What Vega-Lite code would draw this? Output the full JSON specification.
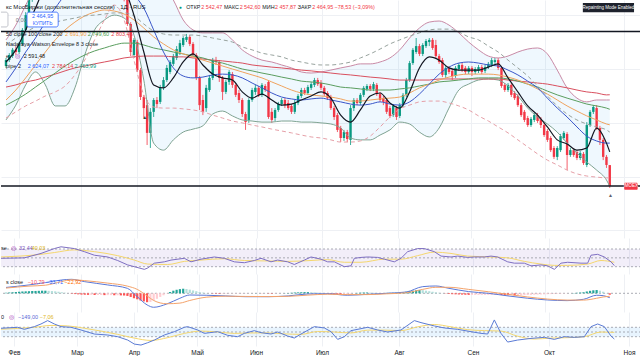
{
"$schema": "https://vega.github.io/schema/vega-lite/v6.json",
"padding": 0,
"spacing": 0,
"background": "#ffffff",
"config": {"view": {"stroke": null}, "font": "Liberation Sans", "concat": {"spacing": 0}, "axis": {"domain": false, "ticks": false, "gridColor": "#eef0f4", "gridWidth": 1}},
"datasets": {
"c": [
{"i":0,"o":2910,"h":2940,"l":2903,"c":2932,"d":5},{"i":1,"o":2932,"h":2958,"l":2925,"c":2951,"d":6},{"i":2,"o":2947,"h":2977,"l":2940,"c":2970,"d":8},{"i":3,"o":2970,"h":2984,"l":2951,"c":2962,"d":10},{"i":4,"o":2962,"h":2999,"l":2955,"c":2992,"d":12},{"i":5,"o":2992,"h":3051,"l":2984,"c":3044,"d":14},{"i":6,"o":3044,"h":3110,"l":3036,"c":3099,"d":15},{"i":7,"o":3099,"h":3166,"l":3092,"c":3155,"d":16},{"i":8,"o":3155,"h":3200,"l":3148,"c":3190,"d":17},{"i":9,"o":3190,"h":3245,"l":3180,"c":3230,"d":18},
{"i":10,"o":3230,"h":3280,"l":3220,"c":3260,"d":19},{"i":11,"o":3260,"h":3320,"l":3250,"c":3300,"d":20},{"i":12,"o":3300,"h":3315,"l":3265,"c":3280,"d":20},{"i":13,"o":3280,"h":3325,"l":3270,"c":3310,"d":19},{"i":14,"o":3310,"h":3320,"l":3255,"c":3270,"d":17},{"i":15,"o":3270,"h":3285,"l":3225,"c":3240,"d":15},{"i":16,"o":3240,"h":3270,"l":3230,"c":3255,"d":12},{"i":17,"o":3255,"h":3262,"l":3205,"c":3220,"d":8},{"i":18,"o":3220,"h":3230,"l":3180,"c":3195,"d":4},{"i":19,"o":3195,"h":3222,"l":3182,"c":3210,"d":0},
{"i":20,"o":3210,"h":3218,"l":3170,"c":3180,"d":-3},{"i":21,"o":3180,"h":3210,"l":3172,"c":3200,"d":-6},{"i":22,"o":3200,"h":3240,"l":3192,"c":3230,"d":-8},{"i":23,"o":3230,"h":3262,"l":3220,"c":3250,"d":-10},{"i":24,"o":3250,"h":3260,"l":3222,"c":3235,"d":-11},{"i":25,"o":3235,"h":3275,"l":3228,"c":3265,"d":-12},{"i":26,"o":3265,"h":3298,"l":3255,"c":3285,"d":-12},{"i":27,"o":3285,"h":3295,"l":3260,"c":3270,"d":-13},{"i":28,"o":3270,"h":3280,"l":3236,"c":3245,"d":-13},{"i":29,"o":3245,"h":3270,"l":3238,"c":3260,"d":-13},
{"i":30,"o":3260,"h":3268,"l":3230,"c":3240,"d":-14},{"i":31,"o":3240,"h":3250,"l":3205,"c":3215,"d":-14},{"i":32,"o":3215,"h":3240,"l":3205,"c":3230,"d":-14},{"i":33,"o":3230,"h":3236,"l":3198,"c":3210,"d":-15},{"i":34,"o":3210,"h":3218,"l":3185,"c":3192,"d":-15},{"i":35,"o":3192,"h":3200,"l":3166,"c":3174,"d":-16},{"i":36,"o":3174,"h":3190,"l":3150,"c":3160,"d":-17},{"i":37,"o":3160,"h":3170,"l":3059,"c":3066,"d":-20},{"i":38,"o":3066,"h":3073,"l":2947,"c":2962,"d":-28},{"i":39,"o":2951,"h":3014,"l":2940,"c":3007,"d":-38},
{"i":40,"o":2999,"h":3007,"l":2888,"c":2895,"d":-46},{"i":41,"o":2895,"h":2903,"l":2784,"c":2795,"d":-55},{"i":42,"o":2795,"h":2803,"l":2717,"c":2754,"d":-62},{"i":43,"o":2765,"h":2784,"l":2617,"c":2662,"d":-68},{"i":44,"o":2662,"h":2754,"l":2606,"c":2740,"d":-66},{"i":45,"o":2740,"h":2791,"l":2721,"c":2784,"d":-55},{"i":46,"o":2784,"h":2795,"l":2754,"c":2769,"d":-42},{"i":47,"o":2777,"h":2840,"l":2769,"c":2829,"d":-28},{"i":48,"o":2829,"h":2869,"l":2821,"c":2858,"d":-15},{"i":49,"o":2858,"h":2914,"l":2851,"c":2903,"d":-2},
{"i":50,"o":2888,"h":2932,"l":2880,"c":2925,"d":10},{"i":51,"o":2918,"h":2955,"l":2910,"c":2947,"d":20},{"i":52,"o":2940,"h":2984,"l":2932,"c":2973,"d":27},{"i":53,"o":2962,"h":3007,"l":2951,"c":2995,"d":32},{"i":54,"o":2988,"h":3021,"l":2981,"c":3014,"d":35},{"i":55,"o":3007,"h":3029,"l":2999,"c":3018,"d":33},{"i":56,"o":3018,"h":3025,"l":2984,"c":2992,"d":28},{"i":57,"o":2992,"h":2999,"l":2944,"c":2951,"d":22},{"i":58,"o":2951,"h":2958,"l":2858,"c":2866,"d":16},{"i":59,"o":2866,"h":2873,"l":2747,"c":2765,"d":10},
{"i":60,"o":2784,"h":2803,"l":2728,"c":2740,"d":5},{"i":61,"o":2754,"h":2840,"l":2740,"c":2829,"d":2},{"i":62,"o":2821,"h":2877,"l":2814,"c":2866,"d":0},{"i":63,"o":2866,"h":2940,"l":2858,"c":2932,"d":-2},{"i":64,"o":2932,"h":2944,"l":2914,"c":2925,"d":-3},{"i":65,"o":2925,"h":2932,"l":2851,"c":2866,"d":-4},{"i":66,"o":2866,"h":2873,"l":2784,"c":2814,"d":-4},{"i":67,"o":2814,"h":2858,"l":2806,"c":2851,"d":-3},{"i":68,"o":2851,"h":2895,"l":2840,"c":2888,"d":-2},{"i":69,"o":2880,"h":2888,"l":2829,"c":2840,"d":-2},
{"i":70,"o":2840,"h":2847,"l":2795,"c":2803,"d":-2},{"i":71,"o":2810,"h":2821,"l":2773,"c":2784,"d":-2},{"i":72,"o":2784,"h":2791,"l":2721,"c":2732,"d":-2},{"i":73,"o":2732,"h":2740,"l":2673,"c":2702,"d":-2},{"i":74,"o":2710,"h":2791,"l":2699,"c":2784,"d":-1},{"i":75,"o":2784,"h":2829,"l":2777,"c":2821,"d":0},{"i":76,"o":2814,"h":2840,"l":2803,"c":2829,"d":1},{"i":77,"o":2829,"h":2836,"l":2795,"c":2803,"d":0},{"i":78,"o":2803,"h":2847,"l":2795,"c":2840,"d":-1},{"i":79,"o":2836,"h":2843,"l":2814,"c":2821,"d":-1},
{"i":80,"o":2851,"h":2858,"l":2714,"c":2721,"d":-2},{"i":81,"o":2740,"h":2754,"l":2699,"c":2710,"d":-3},{"i":82,"o":2717,"h":2754,"l":2706,"c":2747,"d":-2},{"i":83,"o":2747,"h":2777,"l":2740,"c":2769,"d":-1},{"i":84,"o":2769,"h":2791,"l":2762,"c":2784,"d":0},{"i":85,"o":2784,"h":2791,"l":2754,"c":2765,"d":1},{"i":86,"o":2773,"h":2784,"l":2747,"c":2754,"d":2},{"i":87,"o":2762,"h":2769,"l":2732,"c":2740,"d":4},{"i":88,"o":2740,"h":2784,"l":2732,"c":2773,"d":6},{"i":89,"o":2773,"h":2806,"l":2765,"c":2799,"d":7},
{"i":90,"o":2799,"h":2829,"l":2791,"c":2821,"d":8},{"i":91,"o":2821,"h":2829,"l":2803,"c":2810,"d":9},{"i":92,"o":2810,"h":2840,"l":2803,"c":2832,"d":9},{"i":93,"o":2829,"h":2851,"l":2821,"c":2843,"d":8},{"i":94,"o":2840,"h":2866,"l":2832,"c":2858,"d":7},{"i":95,"o":2858,"h":2866,"l":2836,"c":2843,"d":5},{"i":96,"o":2847,"h":2858,"l":2821,"c":2829,"d":3},{"i":97,"o":2829,"h":2836,"l":2799,"c":2806,"d":1},{"i":98,"o":2810,"h":2817,"l":2784,"c":2791,"d":-2},{"i":99,"o":2795,"h":2803,"l":2747,"c":2754,"d":-5},
{"i":100,"o":2754,"h":2762,"l":2710,"c":2721,"d":-8},{"i":101,"o":2728,"h":2736,"l":2665,"c":2673,"d":-11},{"i":102,"o":2680,"h":2688,"l":2628,"c":2643,"d":-12},{"i":103,"o":2643,"h":2673,"l":2632,"c":2665,"d":-11},{"i":104,"o":2665,"h":2673,"l":2628,"c":2639,"d":-8},{"i":105,"o":2636,"h":2765,"l":2617,"c":2754,"d":-4},{"i":106,"o":2754,"h":2791,"l":2743,"c":2784,"d":0},{"i":107,"o":2784,"h":2791,"l":2765,"c":2773,"d":3},{"i":108,"o":2773,"h":2810,"l":2765,"c":2803,"d":5},{"i":109,"o":2803,"h":2836,"l":2795,"c":2829,"d":6},
{"i":110,"o":2825,"h":2843,"l":2817,"c":2836,"d":6},{"i":111,"o":2836,"h":2843,"l":2817,"c":2825,"d":5},{"i":112,"o":2825,"h":2851,"l":2817,"c":2843,"d":4},{"i":113,"o":2840,"h":2847,"l":2799,"c":2806,"d":3},{"i":114,"o":2806,"h":2814,"l":2777,"c":2784,"d":2},{"i":115,"o":2791,"h":2799,"l":2765,"c":2777,"d":2},{"i":116,"o":2784,"h":2791,"l":2732,"c":2740,"d":3},{"i":117,"o":2754,"h":2762,"l":2717,"c":2725,"d":4},{"i":118,"o":2728,"h":2769,"l":2721,"c":2762,"d":4},{"i":119,"o":2754,"h":2762,"l":2710,"c":2721,"d":5},
{"i":120,"o":2725,"h":2773,"l":2717,"c":2765,"d":6},{"i":121,"o":2765,"h":2810,"l":2758,"c":2803,"d":8},{"i":122,"o":2803,"h":2866,"l":2795,"c":2858,"d":12},{"i":123,"o":2858,"h":2929,"l":2851,"c":2921,"d":16},{"i":124,"o":2921,"h":2977,"l":2914,"c":2970,"d":20},{"i":125,"o":2962,"h":3014,"l":2955,"c":2984,"d":23},{"i":126,"o":2984,"h":2992,"l":2947,"c":2955,"d":25},{"i":127,"o":2955,"h":2995,"l":2947,"c":2988,"d":24},{"i":128,"o":2984,"h":3010,"l":2977,"c":3003,"d":20},{"i":129,"o":2999,"h":3014,"l":2984,"c":3007,"d":16},
{"i":130,"o":3007,"h":3014,"l":2970,"c":2977,"d":12},{"i":131,"o":2988,"h":3007,"l":2940,"c":2947,"d":8},{"i":132,"o":2947,"h":2955,"l":2918,"c":2925,"d":4},{"i":133,"o":2932,"h":2940,"l":2869,"c":2877,"d":1},{"i":134,"o":2877,"h":2910,"l":2866,"c":2903,"d":-2},{"i":135,"o":2903,"h":2910,"l":2880,"c":2888,"d":-5},{"i":136,"o":2892,"h":2899,"l":2858,"c":2873,"d":-7},{"i":137,"o":2873,"h":2910,"l":2866,"c":2903,"d":-8},{"i":138,"o":2899,"h":2921,"l":2892,"c":2914,"d":-9},{"i":139,"o":2914,"h":2921,"l":2888,"c":2895,"d":-10},
{"i":140,"o":2903,"h":2910,"l":2880,"c":2888,"d":-11},{"i":141,"o":2888,"h":2910,"l":2880,"c":2903,"d":-12},{"i":142,"o":2903,"h":2910,"l":2873,"c":2888,"d":-12},{"i":143,"o":2888,"h":2906,"l":2880,"c":2899,"d":-12},{"i":144,"o":2892,"h":2914,"l":2884,"c":2906,"d":-12},{"i":145,"o":2906,"h":2914,"l":2880,"c":2888,"d":-12},{"i":146,"o":2892,"h":2914,"l":2884,"c":2906,"d":-12},{"i":147,"o":2906,"h":2925,"l":2899,"c":2918,"d":-12},{"i":148,"o":2914,"h":2940,"l":2906,"c":2932,"d":-12},{"i":149,"o":2925,"h":2940,"l":2918,"c":2932,"d":-12},
{"i":150,"o":2932,"h":2940,"l":2895,"c":2903,"d":-12},{"i":151,"o":2903,"h":2910,"l":2829,"c":2836,"d":-13},{"i":152,"o":2840,"h":2847,"l":2814,"c":2821,"d":-14},{"i":153,"o":2821,"h":2847,"l":2814,"c":2840,"d":-15},{"i":154,"o":2840,"h":2847,"l":2795,"c":2803,"d":-15},{"i":155,"o":2810,"h":2817,"l":2784,"c":2791,"d":-16},{"i":156,"o":2799,"h":2806,"l":2758,"c":2765,"d":-16},{"i":157,"o":2765,"h":2773,"l":2721,"c":2728,"d":-15},{"i":158,"o":2740,"h":2747,"l":2702,"c":2710,"d":-14},{"i":159,"o":2717,"h":2725,"l":2684,"c":2691,"d":-13},
{"i":160,"o":2691,"h":2721,"l":2684,"c":2714,"d":-12},{"i":161,"o":2710,"h":2736,"l":2702,"c":2728,"d":-11},{"i":162,"o":2728,"h":2736,"l":2699,"c":2706,"d":-10},{"i":163,"o":2714,"h":2721,"l":2680,"c":2691,"d":-9},{"i":164,"o":2691,"h":2699,"l":2647,"c":2654,"d":-8},{"i":165,"o":2669,"h":2676,"l":2628,"c":2636,"d":-7},{"i":166,"o":2643,"h":2650,"l":2591,"c":2598,"d":-6},{"i":167,"o":2606,"h":2613,"l":2565,"c":2573,"d":-5},{"i":168,"o":2573,"h":2613,"l":2561,"c":2606,"d":-4},{"i":169,"o":2598,"h":2658,"l":2591,"c":2650,"d":-3},
{"i":170,"o":2643,"h":2669,"l":2636,"c":2662,"d":-2},{"i":171,"o":2658,"h":2665,"l":2524,"c":2580,"d":-1},{"i":172,"o":2580,"h":2606,"l":2573,"c":2598,"d":0},{"i":173,"o":2598,"h":2606,"l":2573,"c":2580,"d":2},{"i":174,"o":2591,"h":2598,"l":2561,"c":2569,"d":4},{"i":175,"o":2569,"h":2595,"l":2561,"c":2587,"d":6},{"i":176,"o":2584,"h":2591,"l":2543,"c":2550,"d":8},{"i":177,"o":2543,"h":2702,"l":2535,"c":2691,"d":14},{"i":178,"o":2691,"h":2747,"l":2684,"c":2740,"d":19},{"i":179,"o":2740,"h":2765,"l":2732,"c":2758,"d":23},
{"i":180,"o":2754,"h":2765,"l":2673,"c":2680,"d":25},{"i":181,"o":2680,"h":2688,"l":2617,"c":2636,"d":20},{"i":182,"o":2636,"h":2643,"l":2561,"c":2573,"d":12},{"i":183,"o":2573,"h":2580,"l":2532,"c":2543,"d":2},{"i":184,"o":2542.47,"h":2542.6,"l":2457.87,"c":2464.95,"d":-10.79}
],
"ln": [
{"i":0,"e":2925,"b":2851,"bu":3007,"bl":2710,"m50":2784,"m100":2765,"m200":2832,"nu":2988,"nl":2717},
{"i":3,"e":2970,"b":2903,"bu":3062,"bl":2765,"m50":2821,"m100":2784,"m200":2840,"nu":3014,"nl":2740},
{"i":6,"e":3044,"b":2962,"bu":3136,"bl":2840,"m50":2866,"m100":2806,"m200":2851,"nu":3036,"nl":2762},
{"i":9,"e":3125,"b":3014,"bu":3211,"bl":2888,"m50":2914,"m100":2832,"m200":2858,"nu":3055,"nl":2780},
{"i":12,"e":3211,"b":3073,"bu":3340,"bl":2840,"m50":2962,"m100":2858,"m200":2869,"nu":3066,"nl":2799},
{"i":15,"e":3266,"b":3125,"bu":3378,"bl":2762,"m50":3007,"m100":2884,"m200":2880,"nu":3073,"nl":2814},
{"i":18,"e":3303,"b":3174,"bu":3378,"bl":2762,"m50":3044,"m100":2910,"m200":2892,"nu":3081,"nl":2836},
{"i":21,"e":3303,"b":3211,"bu":3378,"bl":2829,"m50":3073,"m100":2932,"m200":2903,"nu":3088,"nl":2877},
{"i":24,"e":3285,"b":3237,"bu":3359,"bl":2951,"m50":3096,"m100":2951,"m200":2910,"nu":3096,"nl":2932},
{"i":27,"e":3266,"b":3248,"bu":3340,"bl":3044,"m50":3110,"m100":2966,"m200":2918,"nu":3099,"nl":3007},
{"i":30,"e":3266,"b":3248,"bu":3340,"bl":3081,"m50":3118,"m100":2977,"m200":2925,"nu":3103,"nl":3081},
{"i":33,"e":3248,"b":3237,"bu":3340,"bl":3099,"m50":3114,"m100":2988,"m200":2932,"nu":3107,"nl":3136},
{"i":36,"e":3200,"b":3211,"bu":3340,"bl":3088,"m50":3103,"m100":2995,"m200":2940,"nu":3107,"nl":3081},
{"i":39,"e":3099,"b":3174,"bu":3322,"bl":3025,"m50":3081,"m100":2995,"m200":2944,"nu":3096,"nl":2932},
{"i":42,"e":2962,"b":3125,"bu":3303,"bl":2858,"m50":3051,"m100":2988,"m200":2947,"nu":3066,"nl":2803},
{"i":45,"e":2840,"b":3044,"bu":3266,"bl":2624,"m50":3018,"m100":2977,"m200":2947,"nu":3040,"nl":2758},
{"i":48,"e":2829,"b":2962,"bu":3211,"bl":2598,"m50":2992,"m100":2970,"m200":2947,"nu":3029,"nl":2754},
{"i":51,"e":2866,"b":2903,"bu":3155,"bl":2636,"m50":2970,"m100":2962,"m200":2944,"nu":3025,"nl":2754},
{"i":54,"e":2925,"b":2873,"bu":3081,"bl":2665,"m50":2955,"m100":2955,"m200":2944,"nu":3025,"nl":2751},
{"i":57,"e":2955,"b":2866,"bu":3044,"bl":2676,"m50":2944,"m100":2947,"m200":2940,"nu":3025,"nl":2747},
{"i":60,"e":2914,"b":2869,"bu":3033,"bl":2688,"m50":2932,"m100":2940,"m200":2936,"nu":3021,"nl":2740},
{"i":63,"e":2880,"b":2877,"bu":3033,"bl":2732,"m50":2921,"m100":2929,"m200":2932,"nu":3014,"nl":2728},
{"i":66,"e":2866,"b":2880,"bu":3033,"bl":2743,"m50":2910,"m100":2921,"m200":2929,"nu":3007,"nl":2717},
{"i":69,"e":2858,"b":2877,"bu":3007,"bl":2725,"m50":2899,"m100":2910,"m200":2925,"nu":2999,"nl":2706},
{"i":72,"e":2814,"b":2866,"bu":2970,"bl":2710,"m50":2888,"m100":2899,"m200":2921,"nu":2981,"nl":2699},
{"i":75,"e":2791,"b":2847,"bu":2947,"bl":2706,"m50":2877,"m100":2892,"m200":2914,"nu":2970,"nl":2691},
{"i":78,"e":2806,"b":2829,"bu":2932,"bl":2702,"m50":2866,"m100":2884,"m200":2910,"nu":2958,"nl":2684},
{"i":81,"e":2784,"b":2810,"bu":2925,"bl":2702,"m50":2851,"m100":2877,"m200":2906,"nu":2951,"nl":2676},
{"i":84,"e":2765,"b":2795,"bu":2914,"bl":2706,"m50":2836,"m100":2869,"m200":2903,"nu":2944,"nl":2669},
{"i":87,"e":2769,"b":2788,"bu":2903,"bl":2706,"m50":2821,"m100":2862,"m200":2899,"nu":2932,"nl":2662},
{"i":90,"e":2784,"b":2784,"bu":2888,"bl":2702,"m50":2810,"m100":2854,"m200":2895,"nu":2925,"nl":2654},
{"i":93,"e":2799,"b":2788,"bu":2884,"bl":2702,"m50":2803,"m100":2851,"m200":2892,"nu":2918,"nl":2647},
{"i":96,"e":2814,"b":2791,"bu":2888,"bl":2699,"m50":2799,"m100":2847,"m200":2888,"nu":2914,"nl":2643},
{"i":99,"e":2791,"b":2784,"bu":2895,"bl":2695,"m50":2795,"m100":2840,"m200":2884,"nu":2914,"nl":2636},
{"i":102,"e":2728,"b":2777,"bu":2903,"bl":2680,"m50":2788,"m100":2832,"m200":2880,"nu":2918,"nl":2628},
{"i":105,"e":2702,"b":2769,"bu":2910,"bl":2643,"m50":2780,"m100":2829,"m200":2877,"nu":2925,"nl":2628},
{"i":108,"e":2747,"b":2765,"bu":2918,"bl":2636,"m50":2780,"m100":2825,"m200":2873,"nu":2940,"nl":2632},
{"i":111,"e":2799,"b":2769,"bu":2918,"bl":2636,"m50":2784,"m100":2821,"m200":2869,"nu":2955,"nl":2650},
{"i":114,"e":2810,"b":2777,"bu":2925,"bl":2654,"m50":2788,"m100":2821,"m200":2866,"nu":2973,"nl":2684},
{"i":117,"e":2773,"b":2769,"bu":2940,"bl":2673,"m50":2791,"m100":2821,"m200":2862,"nu":2992,"nl":2721},
{"i":120,"e":2754,"b":2765,"bu":2970,"bl":2702,"m50":2795,"m100":2825,"m200":2858,"nu":3007,"nl":2751},
{"i":123,"e":2814,"b":2777,"bu":3014,"bl":2695,"m50":2810,"m100":2829,"m200":2858,"nu":3021,"nl":2765},
{"i":126,"e":2903,"b":2806,"bu":3051,"bl":2665,"m50":2829,"m100":2836,"m200":2858,"nu":3033,"nl":2777},
{"i":129,"e":2944,"b":2843,"bu":3073,"bl":2647,"m50":2843,"m100":2843,"m200":2858,"nu":3044,"nl":2780},
{"i":132,"e":2932,"b":2880,"bu":3077,"bl":2680,"m50":2858,"m100":2851,"m200":2862,"nu":3047,"nl":2780},
{"i":135,"e":2903,"b":2906,"bu":3062,"bl":2754,"m50":2869,"m100":2854,"m200":2862,"nu":3047,"nl":2773},
{"i":138,"e":2895,"b":2921,"bu":3033,"bl":2821,"m50":2877,"m100":2858,"m200":2862,"nu":3036,"nl":2762},
{"i":141,"e":2895,"b":2925,"bu":2999,"bl":2843,"m50":2880,"m100":2862,"m200":2862,"nu":3018,"nl":2747},
{"i":144,"e":2895,"b":2921,"bu":2970,"bl":2858,"m50":2880,"m100":2866,"m200":2862,"nu":3007,"nl":2725},
{"i":147,"e":2906,"b":2914,"bu":2947,"bl":2862,"m50":2880,"m100":2866,"m200":2862,"nu":2984,"nl":2706},
{"i":150,"e":2918,"b":2910,"bu":2940,"bl":2858,"m50":2877,"m100":2866,"m200":2862,"nu":2962,"nl":2684},
{"i":153,"e":2866,"b":2895,"bu":2947,"bl":2836,"m50":2869,"m100":2862,"m200":2858,"nu":2932,"nl":2662},
{"i":156,"e":2814,"b":2877,"bu":2962,"bl":2799,"m50":2858,"m100":2854,"m200":2854,"nu":2903,"nl":2636},
{"i":159,"e":2762,"b":2854,"bu":2973,"bl":2754,"m50":2843,"m100":2843,"m200":2851,"nu":2873,"nl":2610},
{"i":162,"e":2728,"b":2829,"bu":2977,"bl":2721,"m50":2825,"m100":2832,"m200":2847,"nu":2836,"nl":2584},
{"i":165,"e":2684,"b":2791,"bu":2955,"bl":2695,"m50":2806,"m100":2817,"m200":2843,"nu":2799,"nl":2561},
{"i":168,"e":2636,"b":2754,"bu":2895,"bl":2665,"m50":2784,"m100":2803,"m200":2836,"nu":2762,"nl":2543},
{"i":171,"e":2621,"b":2721,"bu":2829,"bl":2624,"m50":2762,"m100":2791,"m200":2829,"nu":2732,"nl":2524},
{"i":174,"e":2598,"b":2684,"bu":2791,"bl":2587,"m50":2743,"m100":2780,"m200":2821,"nu":2710,"nl":2510},
{"i":177,"e":2606,"b":2650,"bu":2777,"bl":2554,"m50":2725,"m100":2769,"m200":2814,"nu":2695,"nl":2502},
{"i":180,"e":2680,"b":2632,"bu":2784,"bl":2524,"m50":2710,"m100":2762,"m200":2810,"nu":2684,"nl":2498},
{"i":183,"e":2624,"b":2624,"bu":2784,"bl":2487,"m50":2695,"m100":2754,"m200":2803,"nu":2673,"nl":2495},
{"i":184,"e":2591.48,"b":2624.07,"bu":2784.14,"bl":2463.99,"m50":2691.9,"m100":2749.6,"m200":2803.46,"nu":2665,"nl":2495}
],
"rsi": [
{"i":0,"v":49},{"i":7,"v":50},{"i":12,"v":60},{"i":16,"v":71},{"i":18,"v":75},{"i":22,"v":71},{"i":25,"v":64},{"i":28,"v":56},{"i":32,"v":52},{"i":35,"v":44},{"i":38,"v":34},{"i":40,"v":30},{"i":43,"v":24},{"i":44,"v":27},{"i":46,"v":38},{"i":49,"v":41},{"i":51,"v":45},{"i":55,"v":49},{"i":57,"v":41},{"i":60,"v":47},{"i":64,"v":52},{"i":67,"v":49},{"i":70,"v":41},{"i":73,"v":39},{"i":76,"v":44},{"i":78,"v":49},{"i":81,"v":41},{"i":83,"v":45},{"i":86,"v":41},{"i":88,"v":35},{"i":91,"v":45},{"i":93,"v":52},{"i":96,"v":47},{"i":98,"v":41},{"i":100,"v":41},{"i":103,"v":30},{"i":105,"v":32},{"i":106,"v":49},{"i":108,"v":51},{"i":110,"v":52},{"i":113,"v":51},{"i":115,"v":47},{"i":118,"v":41},{"i":120,"v":49},{"i":122,"v":64},{"i":125,"v":71},{"i":127,"v":71},{"i":130,"v":64},{"i":132,"v":54},{"i":135,"v":52},{"i":137,"v":54},{"i":140,"v":51},{"i":142,"v":52},{"i":145,"v":52},{"i":147,"v":54},{"i":149,"v":52},{"i":152,"v":41},{"i":154,"v":38},{"i":157,"v":38},{"i":159,"v":32},{"i":162,"v":34},{"i":164,"v":32},{"i":166,"v":24},{"i":168,"v":38},{"i":170,"v":40},{"i":174,"v":38},{"i":176,"v":38},{"i":177,"v":56},{"i":179,"v":58},{"i":181,"v":52},{"i":183,"v":41},{"i":184,"v":32.44}
],
"rsim": [
{"i":0,"v":52},{"i":12,"v":58},{"i":16,"v":62},{"i":22,"v":68},{"i":28,"v":64},{"i":35,"v":55},{"i":40,"v":45},{"i":44,"v":36},{"i":50,"v":35},{"i":55,"v":42},{"i":60,"v":45},{"i":67,"v":48},{"i":73,"v":44},{"i":80,"v":43},{"i":86,"v":42},{"i":93,"v":44},{"i":98,"v":46},{"i":103,"v":40},{"i":108,"v":40},{"i":115,"v":47},{"i":120,"v":47},{"i":125,"v":55},{"i":130,"v":63},{"i":135,"v":60},{"i":140,"v":54},{"i":147,"v":52},{"i":152,"v":50},{"i":157,"v":42},{"i":162,"v":36},{"i":166,"v":33},{"i":170,"v":33},{"i":176,"v":36},{"i":180,"v":44},{"i":184,"v":40.03}
],
"macd": [
{"i":0,"m":45,"s":40},{"i":7,"m":64,"s":55},{"i":12,"m":82,"s":62},{"i":17,"m":102,"s":90},{"i":20,"m":107,"s":104},{"i":24,"m":89,"s":97},{"i":31,"m":64,"s":78},{"i":37,"m":38,"s":55},{"i":40,"m":-26,"s":30},{"i":43,"m":-89,"s":-20},{"i":45,"m":-107,"s":-55},{"i":49,"m":-82,"s":-80},{"i":53,"m":-38,"s":-75},{"i":56,"m":-13,"s":-55},{"i":61,"m":-15,"s":-30},{"i":67,"m":-20,"s":-22},{"i":73,"m":-26,"s":-24},{"i":80,"m":-26,"s":-25},{"i":86,"m":-20,"s":-23},{"i":92,"m":-5,"s":-14},{"i":98,"m":-3,"s":-7},{"i":104,"m":-15,"s":-10},{"i":110,"m":-8,"s":-10},{"i":116,"m":0,"s":-4},{"i":122,"m":10,"s":4},{"i":127,"m":51,"s":30},{"i":131,"m":56,"s":46},{"i":135,"m":38,"s":46},{"i":141,"m":13,"s":30},{"i":147,"m":0,"s":12},{"i":153,"m":-20,"s":-8},{"i":159,"m":-38,"s":-28},{"i":165,"m":-51,"s":-44},{"i":171,"m":-56,"s":-52},{"i":176,"m":-46,"s":-52},{"i":180,"m":-15,"s":-38},{"i":182,"m":-18,"s":-28},{"i":184,"m":-33.71,"s":-22.92}
],
"cci": [
{"i":0,"v":79},{"i":5,"v":100},{"i":7,"v":57},{"i":10,"v":114},{"i":12,"v":171},{"i":14,"v":243},{"i":16,"v":171},{"i":18,"v":114},{"i":21,"v":100},{"i":24,"v":43},{"i":28,"v":-43},{"i":32,"v":-64},{"i":35,"v":-100},{"i":38,"v":-171},{"i":40,"v":-257},{"i":42,"v":-278},{"i":44,"v":-228},{"i":46,"v":-171},{"i":49,"v":-64},{"i":52,"v":7},{"i":55,"v":100},{"i":56,"v":114},{"i":59,"v":43},{"i":61,"v":-29},{"i":65,"v":7},{"i":68,"v":-71},{"i":71,"v":-100},{"i":73,"v":-29},{"i":76,"v":29},{"i":78,"v":-14},{"i":81,"v":-43},{"i":83,"v":0},{"i":86,"v":-86},{"i":88,"v":-128},{"i":90,"v":-43},{"i":94,"v":114},{"i":97,"v":86},{"i":99,"v":7},{"i":101,"v":-157},{"i":103,"v":-100},{"i":105,"v":29},{"i":108,"v":71},{"i":110,"v":100},{"i":113,"v":43},{"i":116,"v":0},{"i":120,"v":43},{"i":124,"v":243},{"i":126,"v":200},{"i":130,"v":129},{"i":133,"v":86},{"i":137,"v":57},{"i":141,"v":7},{"i":144,"v":-29},{"i":146,"v":-43},{"i":148,"v":257},{"i":150,"v":-29},{"i":152,"v":-214},{"i":155,"v":-171},{"i":159,"v":-136},{"i":163,"v":-114},{"i":166,"v":-157},{"i":169,"v":-100},{"i":172,"v":-114},{"i":175,"v":-100},{"i":177,"v":114},{"i":179,"v":171},{"i":181,"v":114},{"i":183,"v":-86},{"i":184,"v":-149}
],
"ccim": [
{"i":0,"v":60},{"i":10,"v":100},{"i":15,"v":140},{"i":20,"v":130},{"i":25,"v":80},{"i":30,"v":20},{"i":35,"v":-50},{"i":40,"v":-130},{"i":45,"v":-180},{"i":50,"v":-120},{"i":55,"v":-30},{"i":60,"v":20},{"i":65,"v":0},{"i":70,"v":-30},{"i":75,"v":-20},{"i":80,"v":-20},{"i":85,"v":-40},{"i":90,"v":-50},{"i":95,"v":10},{"i":100,"v":0},{"i":105,"v":-20},{"i":110,"v":40},{"i":115,"v":40},{"i":120,"v":30},{"i":125,"v":110},{"i":130,"v":160},{"i":135,"v":110},{"i":140,"v":50},{"i":145,"v":30},{"i":150,"v":20},{"i":155,"v":-90},{"i":160,"v":-150},{"i":165,"v":-130},{"i":170,"v":-120},{"i":175,"v":-100},{"i":180,"v":0},{"i":184,"v":-7}
]
},
"vconcat": [
{"width": 640, "height": 238, "layer": [
{"data": {"name": "ln"}, "mark": {"type": "area", "color": "#2196f3", "opacity": 0.07, "interpolate": "monotone", "clip": true},
 "encoding": {"x": {"field": "i", "type": "quantitative", "scale": {"domain": [0, 192], "nice": false, "zero": false}, "axis": {"values": [3.9,22.8,39.9,58.8,76.5,96.3,119.4,141.6,164.4,188.4], "labels": false, "grid": true, "title": null}},
  "y": {"field": "bu", "type": "quantitative", "scale": {"domain": [2272, 3155], "nice": false, "zero": false}, "axis": {"values": [2300,2400,2500,2600,2700,2800,2900,3000,3100], "labels": false, "grid": true, "title": null}},
  "y2": {"field": "bl"}}},
{"data": {"name": "c"}, "mark": {"type": "rule", "strokeWidth": 0.8, "clip": true},
 "encoding": {"x": {"field": "i", "type": "quantitative"}, "y": {"field": "l", "type": "quantitative"}, "y2": {"field": "h"},
  "color": {"condition": {"test": "datum.c >= datum.o", "value": "#089981"}, "value": "#f23645"}}},
{"data": {"name": "c"}, "mark": {"type": "bar", "width": 2.4, "clip": true},
 "encoding": {"x": {"field": "i", "type": "quantitative"}, "y": {"field": "o", "type": "quantitative"}, "y2": {"field": "c"},
  "color": {"condition": {"test": "datum.c >= datum.o", "value": "#089981"}, "value": "#f23645"}}},
{"data": {"name": "ln"}, "mark": {"type": "line", "color": "#c98aa6", "strokeWidth": 1, "interpolate": "monotone", "clip": true},
 "encoding": {"x": {"field": "i", "type": "quantitative"}, "y": {"field": "bu", "type": "quantitative"}}},
{"data": {"name": "ln"}, "mark": {"type": "line", "color": "#7fa392", "strokeWidth": 1, "interpolate": "monotone", "clip": true},
 "encoding": {"x": {"field": "i", "type": "quantitative"}, "y": {"field": "bl", "type": "quantitative"}}},
{"data": {"name": "ln"}, "mark": {"type": "line", "color": "#d9505f", "strokeWidth": 1, "interpolate": "monotone", "clip": true},
 "encoding": {"x": {"field": "i", "type": "quantitative"}, "y": {"field": "m200", "type": "quantitative"}}},
{"data": {"name": "ln"}, "mark": {"type": "line", "color": "#5b9e5f", "strokeWidth": 1, "interpolate": "monotone", "clip": true},
 "encoding": {"x": {"field": "i", "type": "quantitative"}, "y": {"field": "m100", "type": "quantitative"}}},
{"data": {"name": "ln"}, "mark": {"type": "line", "color": "#f0a35e", "strokeWidth": 1, "interpolate": "monotone", "clip": true},
 "encoding": {"x": {"field": "i", "type": "quantitative"}, "y": {"field": "m50", "type": "quantitative"}}},
{"data": {"name": "ln"}, "mark": {"type": "line", "color": "#98a39e", "strokeWidth": 1, "strokeDash": [4, 3], "interpolate": "monotone", "clip": true},
 "encoding": {"x": {"field": "i", "type": "quantitative"}, "y": {"field": "nu", "type": "quantitative"}}},
{"data": {"name": "ln"}, "mark": {"type": "line", "color": "#e6a0a8", "strokeWidth": 1, "strokeDash": [4, 3], "interpolate": "monotone", "clip": true},
 "encoding": {"x": {"field": "i", "type": "quantitative"}, "y": {"field": "nl", "type": "quantitative"}}},
{"data": {"name": "ln"}, "mark": {"type": "line", "color": "#3a56c9", "strokeWidth": 1, "interpolate": "monotone", "clip": true},
 "encoding": {"x": {"field": "i", "type": "quantitative"}, "y": {"field": "b", "type": "quantitative"}}},
{"data": {"name": "ln"}, "mark": {"type": "line", "color": "#131722", "strokeWidth": 1.2, "interpolate": "monotone", "clip": true},
 "encoding": {"x": {"field": "i", "type": "quantitative"}, "y": {"field": "e", "type": "quantitative"}}},
{"data": {"values": [{"p": 3038}, {"p": 2464.95}]}, "mark": {"type": "rule", "color": "#131722", "strokeWidth": 1.4},
 "encoding": {"y": {"field": "p", "type": "quantitative"}}},
{"data": {"values": [{}]}, "mark": {"type": "text", "align": "left", "baseline": "middle", "fontSize": 6, "color": "#131722", "text": "кс МосБиржи (дополнительная сессия) · 1Д · RUS", "clip": true}, "encoding": {"x": {"datum": 0}, "y": {"datum": 3130}}},
{"data": {"values": [{}]}, "mark": {"type": "text", "align": "center", "baseline": "middle", "fontSize": 5, "color": "#089981", "text": "●", "clip": true}, "encoding": {"x": {"datum": 53.1}, "y": {"datum": 3130}}},
{"data": {"values": [{}]}, "mark": {"type": "text", "align": "left", "baseline": "middle", "fontSize": 5.4, "color": "#131722", "text": "ОТКР", "clip": true}, "encoding": {"x": {"datum": 54.9}, "y": {"datum": 3130}}},
{"data": {"values": [{}]}, "mark": {"type": "text", "align": "left", "baseline": "middle", "fontSize": 5.4, "color": "#f23645", "text": "2 542,47", "clip": true}, "encoding": {"x": {"datum": 59.5}, "y": {"datum": 3130}}},
{"data": {"values": [{}]}, "mark": {"type": "text", "align": "left", "baseline": "middle", "fontSize": 5.4, "color": "#131722", "text": "МАКС", "clip": true}, "encoding": {"x": {"datum": 66.4}, "y": {"datum": 3130}}},
{"data": {"values": [{}]}, "mark": {"type": "text", "align": "left", "baseline": "middle", "fontSize": 5.4, "color": "#f23645", "text": "2 542,60", "clip": true}, "encoding": {"x": {"datum": 71.2}, "y": {"datum": 3130}}},
{"data": {"values": [{}]}, "mark": {"type": "text", "align": "left", "baseline": "middle", "fontSize": 5.4, "color": "#131722", "text": "МИН", "clip": true}, "encoding": {"x": {"datum": 78.1}, "y": {"datum": 3130}}},
{"data": {"values": [{}]}, "mark": {"type": "text", "align": "left", "baseline": "middle", "fontSize": 5.4, "color": "#f23645", "text": "2 457,87", "clip": true}, "encoding": {"x": {"datum": 82}, "y": {"datum": 3130}}},
{"data": {"values": [{}]}, "mark": {"type": "text", "align": "left", "baseline": "middle", "fontSize": 5.4, "color": "#131722", "text": "ЗАКР", "clip": true}, "encoding": {"x": {"datum": 88.9}, "y": {"datum": 3130}}},
{"data": {"values": [{}]}, "mark": {"type": "text", "align": "left", "baseline": "middle", "fontSize": 5.4, "color": "#f23645", "text": "2 464,95 −78,53 (−3,09%)", "clip": true}, "encoding": {"x": {"datum": 93.3}, "y": {"datum": 3130}}},
{"data": {"values": [{}]}, "mark": {"type": "text", "align": "left", "baseline": "middle", "fontSize": 5.5, "color": "#787b86", "text": "0,00", "clip": true}, "encoding": {"x": {"datum": 3}, "y": {"datum": 3081}}},
{"data": {"values": [{}]}, "mark": {"type": "rect", "fill": "#ffffff", "stroke": "#b2b5be", "strokeWidth": 0.8, "cornerRadius": 2, "clip": true}, "encoding": {"x": {"datum": -3}, "x2": {"datum": 0.6}, "y": {"datum": 3110}, "y2": {"datum": 3055}}},
{"data": {"values": [{}]}, "mark": {"type": "rect", "fill": "#ffffff", "stroke": "#2962ff", "strokeWidth": 0.8, "cornerRadius": 2, "clip": true}, "encoding": {"x": {"datum": 6.4}, "x2": {"datum": 15.9}, "y": {"datum": 3110}, "y2": {"datum": 3055}}},
{"data": {"values": [{}]}, "mark": {"type": "text", "align": "center", "baseline": "middle", "fontSize": 5.5, "color": "#2962ff", "text": "2 464,95", "clip": true}, "encoding": {"x": {"datum": 11.15}, "y": {"datum": 3094}}},
{"data": {"values": [{}]}, "mark": {"type": "text", "align": "center", "baseline": "middle", "fontSize": 5, "color": "#2962ff", "text": "КУПИТЬ", "clip": true}, "encoding": {"x": {"datum": 11.15}, "y": {"datum": 3068}}},
{"data": {"values": [{}]}, "mark": {"type": "text", "align": "left", "baseline": "middle", "fontSize": 5.5, "color": "#131722", "text": "50 close 100 close 200", "clip": true}, "encoding": {"x": {"datum": 0}, "y": {"datum": 3029}}},
{"data": {"values": [{}]}, "mark": {"type": "text", "align": "left", "baseline": "middle", "fontSize": 5.5, "color": "#f59b3a", "text": "2 691,90", "clip": true}, "encoding": {"x": {"datum": 18}, "y": {"datum": 3029}}},
{"data": {"values": [{}]}, "mark": {"type": "text", "align": "left", "baseline": "middle", "fontSize": 5.5, "color": "#43a047", "text": "2 749,60", "clip": true}, "encoding": {"x": {"datum": 24.9}, "y": {"datum": 3029}}},
{"data": {"values": [{}]}, "mark": {"type": "text", "align": "left", "baseline": "middle", "fontSize": 5.5, "color": "#e53945", "text": "2 803,46", "clip": true}, "encoding": {"x": {"datum": 32.1}, "y": {"datum": 3029}}},
{"data": {"values": [{}]}, "mark": {"type": "text", "align": "left", "baseline": "middle", "fontSize": 5.5, "color": "#131722", "text": "Nadaraya-Watson Envelope 8 3 close", "clip": true}, "encoding": {"x": {"datum": 0}, "y": {"datum": 2992}}},
{"data": {"values": [{}]}, "mark": {"type": "text", "align": "left", "baseline": "middle", "fontSize": 5.5, "color": "#131722", "text": "e", "clip": true}, "encoding": {"x": {"datum": 0}, "y": {"datum": 2947}}},
{"data": {"values": [{}]}, "mark": {"type": "text", "align": "center", "baseline": "middle", "fontSize": 6, "color": "#9c27b0", "text": "◎", "clip": true}, "encoding": {"x": {"datum": 3.4}, "y": {"datum": 2947}}},
{"data": {"values": [{}]}, "mark": {"type": "text", "align": "left", "baseline": "middle", "fontSize": 5.5, "color": "#131722", "text": "2 591,48", "clip": true}, "encoding": {"x": {"datum": 5.4}, "y": {"datum": 2947}}},
{"data": {"values": [{}]}, "mark": {"type": "text", "align": "left", "baseline": "middle", "fontSize": 5.5, "color": "#131722", "text": "pipe 2", "clip": true}, "encoding": {"x": {"datum": 0}, "y": {"datum": 2910}}},
{"data": {"values": [{}]}, "mark": {"type": "text", "align": "left", "baseline": "middle", "fontSize": 5.5, "color": "#2962ff", "text": "2 624,07", "clip": true}, "encoding": {"x": {"datum": 6.6}, "y": {"datum": 2910}}},
{"data": {"values": [{}]}, "mark": {"type": "text", "align": "left", "baseline": "middle", "fontSize": 5.5, "color": "#e53945", "text": "2 784,14", "clip": true}, "encoding": {"x": {"datum": 14}, "y": {"datum": 2910}}},
{"data": {"values": [{}]}, "mark": {"type": "text", "align": "left", "baseline": "middle", "fontSize": 5.5, "color": "#089981", "text": "2 463,99", "clip": true}, "encoding": {"x": {"datum": 20.9}, "y": {"datum": 2910}}},
{"data": {"values": [{}]}, "mark": {"type": "rect", "fill": "#1e222d", "clip": true}, "encoding": {"x": {"datum": 175.8}, "x2": {"datum": 191.4}, "y": {"datum": 3144}, "y2": {"datum": 3110}}},
{"data": {"values": [{}]}, "mark": {"type": "text", "align": "center", "baseline": "middle", "fontSize": 4.5, "color": "#ffffff", "text": "Repainting Mode Enabled", "clip": true}, "encoding": {"x": {"datum": 183.6}, "y": {"datum": 3127}}},
{"data": {"values": [{}]}, "mark": {"type": "rect", "fill": "#f23645", "cornerRadius": 1, "clip": true}, "encoding": {"x": {"datum": 188.4}, "x2": {"datum": 192.5}, "y": {"datum": 2477}, "y2": {"datum": 2451}}},
{"data": {"values": [{}]}, "mark": {"type": "text", "align": "center", "baseline": "middle", "fontSize": 4.5, "color": "#ffffff", "text": "IMOEX", "clip": true}, "encoding": {"x": {"datum": 190.4}, "y": {"datum": 2464}}},
{"data": {"values": [{}]}, "mark": {"type": "text", "align": "center", "baseline": "middle", "fontSize": 5, "color": "#2e4a3e", "text": "▲", "clip": true}, "encoding": {"x": {"datum": 42.3}, "y": {"datum": 2721}}},
{"data": {"values": [{}]}, "mark": {"type": "text", "align": "center", "baseline": "middle", "fontSize": 5, "color": "#5d606b", "text": "▲", "clip": true}, "encoding": {"x": {"datum": 184.2}, "y": {"datum": 2432}}}
]},
{"width": 640, "height": 36, "layer": [
{"data": {"values": [{"hi": 70, "lo": 30}]}, "mark": {"type": "rect", "color": "#7e57c2", "opacity": 0.1},
 "encoding": {"y": {"field": "hi", "type": "quantitative", "scale": {"domain": [13.5, 94.9], "nice": false, "zero": false}, "axis": null}, "y2": {"field": "lo"}}},
{"data": {"values": [{"v": 70}, {"v": 50}, {"v": 30}]}, "mark": {"type": "rule", "color": "#9598a1", "strokeWidth": 0.8, "strokeDash": [2, 2]},
 "encoding": {"y": {"field": "v", "type": "quantitative", "axis": null}}},
{"data": {"name": "rsim"}, "mark": {"type": "line", "color": "#f5d76e", "strokeWidth": 1, "interpolate": "monotone", "clip": true},
 "encoding": {"x": {"field": "i", "type": "quantitative", "scale": {"domain": [0, 192], "nice": false, "zero": false}, "axis": {"values": [3.9,22.8,39.9,58.8,76.5,96.3,119.4,141.6,164.4,188.4], "labels": false, "grid": true, "title": null}}, "y": {"field": "v", "type": "quantitative", "axis": null}}},
{"data": {"name": "rsi"}, "mark": {"type": "line", "color": "#7e6fc2", "strokeWidth": 1, "clip": true},
 "encoding": {"x": {"field": "i", "type": "quantitative"}, "y": {"field": "v", "type": "quantitative", "axis": null}}},
{"data": {"values": [{}]}, "mark": {"type": "text", "align": "left", "baseline": "middle", "fontSize": 5.5, "color": "#131722", "text": "se", "clip": true}, "encoding": {"x": {"datum": 0}, "y": {"datum": 72.3, "axis": null}}},
{"data": {"values": [{}]}, "mark": {"type": "text", "align": "center", "baseline": "middle", "fontSize": 6, "color": "#9c27b0", "text": "◎", "clip": true}, "encoding": {"x": {"datum": 3.6}, "y": {"datum": 72.3, "axis": null}}},
{"data": {"values": [{}]}, "mark": {"type": "text", "align": "left", "baseline": "middle", "fontSize": 5.5, "color": "#7e57c2", "text": "32,44", "clip": true}, "encoding": {"x": {"datum": 5.4}, "y": {"datum": 72.3, "axis": null}}},
{"data": {"values": [{}]}, "mark": {"type": "text", "align": "left", "baseline": "middle", "fontSize": 5.5, "color": "#e0b624", "text": "40,03", "clip": true}, "encoding": {"x": {"datum": 9.2}, "y": {"datum": 72.3, "axis": null}}}
]},
{"width": 640, "height": 38, "layer": [
{"data": {"values": [{"v": 0}]}, "mark": {"type": "rule", "color": "#9598a1", "strokeWidth": 0.8, "strokeDash": [2, 2]},
 "encoding": {"y": {"field": "v", "type": "quantitative", "scale": {"domain": [-143.2, 147.8], "nice": false, "zero": false}, "axis": null}}},
{"data": {"name": "c"}, "transform": [{"window": [{"op": "lag", "field": "d", "as": "pd"}], "sort": [{"field": "i"}]}],
 "mark": {"type": "bar", "width": 2.2, "clip": true},
 "encoding": {"x": {"field": "i", "type": "quantitative", "scale": {"domain": [0, 192], "nice": false, "zero": false}, "axis": {"values": [3.9,22.8,39.9,58.8,76.5,96.3,119.4,141.6,164.4,188.4], "labels": false, "grid": true, "title": null}},
  "y": {"field": "d", "type": "quantitative", "axis": null}, "y2": {"datum": 0},
  "color": {"condition": [{"test": "datum.d >= 0 && datum.d >= datum.pd", "value": "#26a69a"}, {"test": "datum.d >= 0", "value": "#b2dfdb"}, {"test": "datum.d < datum.pd", "value": "#ff5252"}], "value": "#ffcdd2"}}},
{"data": {"name": "macd"}, "mark": {"type": "line", "color": "#5a78d8", "strokeWidth": 1, "interpolate": "monotone", "clip": true},
 "encoding": {"x": {"field": "i", "type": "quantitative"}, "y": {"field": "m", "type": "quantitative", "axis": null}}},
{"data": {"name": "macd"}, "mark": {"type": "line", "color": "#f4a36b", "strokeWidth": 1, "interpolate": "monotone", "clip": true},
 "encoding": {"x": {"field": "i", "type": "quantitative"}, "y": {"field": "s", "type": "quantitative", "axis": null}}},
{"data": {"values": [{}]}, "mark": {"type": "text", "align": "left", "baseline": "middle", "fontSize": 5.5, "color": "#131722", "text": "s close", "clip": true}, "encoding": {"x": {"datum": 0}, "y": {"datum": 86.5, "axis": null}}},
{"data": {"values": [{}]}, "mark": {"type": "text", "align": "left", "baseline": "middle", "fontSize": 5.5, "color": "#f7525f", "text": "−10,79", "clip": true}, "encoding": {"x": {"datum": 6.6}, "y": {"datum": 86.5, "axis": null}}},
{"data": {"values": [{}]}, "mark": {"type": "text", "align": "left", "baseline": "middle", "fontSize": 5.5, "color": "#2962ff", "text": "−33,71", "clip": true}, "encoding": {"x": {"datum": 12.2}, "y": {"datum": 86.5, "axis": null}}},
{"data": {"values": [{}]}, "mark": {"type": "text", "align": "left", "baseline": "middle", "fontSize": 5.5, "color": "#ff6d00", "text": "−22,92", "clip": true}, "encoding": {"x": {"datum": 17.8}, "y": {"datum": 86.5, "axis": null}}}
]},
{"width": 640, "height": 34, "layer": [
{"data": {"values": [{"hi": 100, "lo": -100}]}, "mark": {"type": "rect", "color": "#2196f3", "opacity": 0.1},
 "encoding": {"y": {"field": "hi", "type": "quantitative", "scale": {"domain": [-298, 426], "nice": false, "zero": false}, "axis": null}, "y2": {"field": "lo"}}},
{"data": {"values": [{"v": 100}, {"v": 0}, {"v": -100}]}, "mark": {"type": "rule", "color": "#9598a1", "strokeWidth": 0.8, "strokeDash": [2, 2]},
 "encoding": {"y": {"field": "v", "type": "quantitative", "axis": null}}},
{"data": {"name": "ccim"}, "mark": {"type": "line", "color": "#f5d76e", "strokeWidth": 1, "interpolate": "monotone", "clip": true},
 "encoding": {"x": {"field": "i", "type": "quantitative", "scale": {"domain": [0, 192], "nice": false, "zero": false},
   "axis": {"values": [3.9,22.8,39.9,58.8,76.5,96.3,119.4,141.6,164.4,188.4], "labels": true, "grid": true, "title": null, "labelFontSize": 6.5, "labelColor": "#131722", "labelPadding": 3, "labelOverlap": false, "labelFlush": false,
    "labelExpr": "datum.value < 10 ? 'Фев' : datum.value < 30 ? 'Мар' : datum.value < 50 ? 'Апр' : datum.value < 65 ? 'Май' : datum.value < 85 ? 'Июн' : datum.value < 105 ? 'Июл' : datum.value < 130 ? 'Авг' : datum.value < 150 ? 'Сен' : datum.value < 175 ? 'Окт' : 'Ноя'"}},
  "y": {"field": "v", "type": "quantitative", "axis": null}}},
{"data": {"name": "cci"}, "mark": {"type": "line", "color": "#5b7bd5", "strokeWidth": 1, "clip": true},
 "encoding": {"x": {"field": "i", "type": "quantitative"}, "y": {"field": "v", "type": "quantitative", "axis": null}}},
{"data": {"values": [{}]}, "mark": {"type": "text", "align": "left", "baseline": "middle", "fontSize": 5.5, "color": "#131722", "text": "0", "clip": true}, "encoding": {"x": {"datum": 0}, "y": {"datum": 319.5, "axis": null}}},
{"data": {"values": [{}]}, "mark": {"type": "text", "align": "center", "baseline": "middle", "fontSize": 6, "color": "#9c27b0", "text": "◎", "clip": true}, "encoding": {"x": {"datum": 3.2}, "y": {"datum": 319.5, "axis": null}}},
{"data": {"values": [{}]}, "mark": {"type": "text", "align": "left", "baseline": "middle", "fontSize": 5.5, "color": "#5b6bd6", "text": "−149,00", "clip": true}, "encoding": {"x": {"datum": 5.1}, "y": {"datum": 319.5, "axis": null}}},
{"data": {"values": [{}]}, "mark": {"type": "text", "align": "left", "baseline": "middle", "fontSize": 5.5, "color": "#e0b624", "text": "−7,06", "clip": true}, "encoding": {"x": {"datum": 11.6}, "y": {"datum": 319.5, "axis": null}}}
]}
]
}
